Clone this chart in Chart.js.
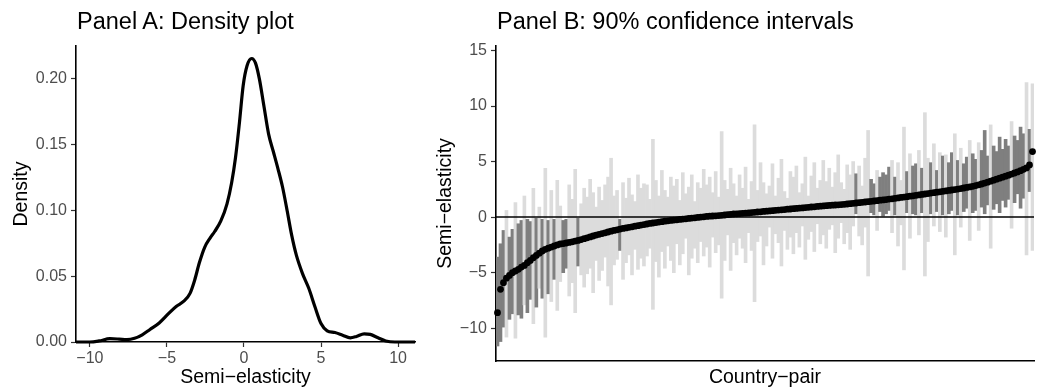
<!DOCTYPE html>
<html>
<head>
<meta charset="utf-8">
<script src="https://cdn.jsdelivr.net/npm/chart.js@4.4.1/dist/chart.umd.min.js"></script>
<style>
  html, body { margin: 0; padding: 0; background: #fff; }
  body { width: 1038px; height: 389px; position: relative; overflow: hidden; font-family: "Liberation Sans", Arial, sans-serif; }
  canvas { position: absolute; top: 0; }
  .panel-title { position: absolute; top: 10px; z-index: 2; font-size: 23.5px; line-height: 23px; color: #000; white-space: nowrap; }
</style>
</head>
<body>
<canvas id="density" width="420" height="389" style="left:0"></canvas>
<canvas id="intervals" width="618" height="389" style="left:420px"></canvas>
<div class="panel-title" style="left:77px">Panel A: Density plot</div>
<div class="panel-title" style="left:497px">Panel B: 90% confidence intervals</div>
<script>
// Panel A: kernel density of the semi-elasticities
const densityX = [-10.9, -10.0, -9.4, -8.7, -8.1, -7.6, -7.1, -6.6, -6.1, -5.5,
  -4.9, -4.4, -3.9, -3.5, -3.2, -2.9, -2.55, -2.2, -1.9, -1.5,
  -1.1, -0.8, -0.55, -0.3, -0.05, 0.2, 0.5, 0.75, 1.0, 1.3,
  1.6, 1.9, 2.2, 2.5, 2.8, 3.1, 3.4, 3.8, 4.2, 4.6,
  5.0, 5.4, 5.9, 6.4, 6.9, 7.3, 7.8, 8.2, 8.7, 9.2, 9.8, 11.1];
const densityY = [0, 0, 0.0008, 0.0025, 0.0022, 0.0018, 0.0028, 0.0055, 0.0095, 0.0145,
  0.0215, 0.027, 0.031, 0.037, 0.047, 0.06, 0.072, 0.079, 0.084, 0.092,
  0.105, 0.121, 0.14, 0.166, 0.195, 0.21, 0.2155, 0.212, 0.2, 0.179,
  0.158, 0.145, 0.132, 0.118, 0.1, 0.081, 0.066, 0.052, 0.041, 0.027,
  0.014, 0.0085, 0.0072, 0.0052, 0.0032, 0.0042, 0.0062, 0.0058, 0.0032, 0.0008, 0, 0];

// Panel B: point estimates sorted, with 90% CI bounds
const estimates = [
  -8.6, -6.5, -5.9, -5.5, -5.25, -5.0, -4.85, -4.7, -4.5, -4.35,
  -4.1, -3.9, -3.65, -3.45, -3.25, -3.05, -2.9, -2.8, -2.7, -2.6,
  -2.5, -2.42, -2.38, -2.33, -2.28, -2.22, -2.16, -2.1, -2.02, -1.94,
  -1.86, -1.78, -1.7, -1.62, -1.55, -1.48, -1.41, -1.34, -1.27, -1.2,
  -1.14, -1.08, -1.02, -0.97, -0.92, -0.87, -0.82, -0.77, -0.72, -0.67,
  -0.62, -0.57, -0.53, -0.49, -0.45, -0.41, -0.37, -0.33, -0.3, -0.27,
  -0.24, -0.21, -0.18, -0.15, -0.12, -0.09, -0.06, -0.03, 0.0, 0.03,
  0.06, 0.08, 0.1, 0.12, 0.14, 0.16, 0.19, 0.22, 0.25, 0.28,
  0.3, 0.32, 0.34, 0.36, 0.38, 0.41, 0.43, 0.46, 0.48, 0.51,
  0.53, 0.56, 0.58, 0.61, 0.63, 0.66, 0.68, 0.71, 0.73, 0.76,
  0.78, 0.81, 0.83, 0.86, 0.88, 0.91, 0.93, 0.96, 0.98, 1.01,
  1.03, 1.05, 1.07, 1.09, 1.11, 1.13, 1.15, 1.18, 1.21, 1.24,
  1.27, 1.3, 1.33, 1.36, 1.39, 1.42, 1.45, 1.48, 1.52, 1.55,
  1.58, 1.62, 1.65, 1.69, 1.73, 1.77, 1.8, 1.84, 1.88, 1.92,
  1.96, 2.0, 2.04, 2.08, 2.12, 2.16, 2.2, 2.24, 2.28, 2.32,
  2.36, 2.4, 2.44, 2.48, 2.52, 2.57, 2.62, 2.67, 2.72, 2.77,
  2.84, 2.91, 2.98, 3.06, 3.14, 3.23, 3.32, 3.41, 3.5, 3.59,
  3.68, 3.77, 3.87, 3.97, 4.07, 4.18, 4.3, 4.43, 4.7, 5.9
];
const ciLower = [
  -11.6, -11.2, -9.9, -10.8, -9.2, -8.7, -10.9, -8.8, -9.1, -7.9,
  -8.6, -7.4, -9.6, -8.1, -6.4, -7.3, -10.8, -6.9, -7.6, -5.6,
  -8.4, -5.8, -5.0, -4.6, -7.1, -5.9, -8.6, -4.4, -5.2, -6.3,
  -5.1, -4.6, -6.8, -3.9, -5.7, -4.8, -3.6, -6.2, -7.9, -4.3,
  -3.8, -3.0, -5.6, -4.1, -3.4, -5.2, -2.9, -4.7, -3.7, -4.4,
  -3.5, -2.8, -8.3, -4.0, -5.4, -3.1, -4.6, -2.6, -3.9, -5.0,
  -2.4, -4.3, -3.3, -1.9, -5.2, -3.7, -2.8, -4.1, -2.2, -3.5,
  -2.7, -4.5, -1.8, -3.2, -2.5, -7.3, -3.9, -1.6, -4.8, -2.3,
  -3.4, -1.9, -2.8, -4.1, -1.4, -3.0, -7.6, -2.2, -1.7, -4.3,
  -2.6, -0.9, -3.7, -1.5, -2.3, -4.4, -1.2, -2.9, -1.8, -3.3,
  -1.4, -2.7, -0.8, -3.8, -2.0, -1.3, -3.1, -0.6, -2.4, -1.6,
  -2.8, -1.1, -0.7, -3.2, -1.9, -0.5, -2.4, -1.4, -2.9, -0.8,
  0.3, -1.7, -2.5, -0.9, -5.3, 0.4, 0.2, -1.2, 0.5, 0.1,
  0.3, 0.6, -1.4, 0.2, -2.6, -0.7, -4.75, 0.4, -1.9, 0.3,
  0.2, -1.6, 0.4, -5.3, -2.2, 0.3, -0.8, 0.5, -1.3, 0.2,
  -1.8, 0.3, 0.6, -3.4, 0.2, -0.9, 0.5, 0.8, -2.1, 0.4,
  0.6, -1.2, 0.9, 0.3, 1.1, -2.8, 0.7, 1.2, 0.4, 1.5,
  0.9, 1.6, -1.0, 1.3, 2.1, 0.8, 1.7, -3.4, 2.3, -3.0
];
const ciUpper = [
  -3.6, -2.4, -1.2, 0.6, -1.8, -1.1, 1.3, -0.6, -0.3, 1.9,
  -0.2, -0.4, 2.6, -0.1, 0.9, -0.2, 4.4, -0.3, 2.4, -0.2,
  3.3, 1.0, -0.3, -0.2, 2.9, 1.6, 4.3, -0.1, 1.2, 2.6,
  1.8, 3.4, 2.2, 0.9, 2.7, 1.5, 2.9, 3.6, 5.3, 1.9,
  2.4, -0.2, 3.1, 1.7, 3.5, 2.0, 1.4, 3.8, 2.6, 3.0,
  2.9, 1.6, 7.0, 3.3, 1.9, 4.2, 2.4, 1.8, 3.6, 2.8,
  3.4, 1.5, 4.0, 2.1, 2.7, 3.8, 1.4, 3.1, 2.6, 4.3,
  2.9, 3.6, 2.2, 4.1, 1.8, 7.7, 3.3, 2.5, 4.4, 3.0,
  1.9, 3.8, 2.6, 4.5, 1.6, 3.2, 8.3, 2.4, 4.9, 3.1,
  2.1, 2.8, 4.8, 1.9, 3.5, 5.2, 2.3, 1.7, 4.1, 3.6,
  4.6, 2.2, 3.0, 5.4, 1.9, 3.7, 4.9, 2.6, 3.3, 5.1,
  3.2, 4.4, 2.7, 4.0, 5.6, 3.1, 2.5, 4.7, 3.8, 5.0,
  3.9, 4.6, 2.8, 5.3, 7.8, 3.4, 3.0, 4.2, 3.6, 4.0,
  3.8, 4.5, 5.1, 3.6, 4.9, 3.3, 8.1, 4.1, 5.7, 4.6,
  4.8, 6.0, 4.4, 9.4, 5.3, 4.9, 6.6, 4.2, 5.8, 5.5,
  5.6, 4.9, 5.8, 7.5, 5.1, 6.2, 4.8, 5.4, 6.9, 5.7,
  5.2, 6.7, 6.0, 7.8, 5.5, 8.3, 6.4, 5.9, 7.2, 6.1,
  7.0, 6.4, 8.6, 7.3, 6.9, 8.1, 7.5, 12.1, 7.9, 12.0
];
const pairIds = estimates.map((_, i) => i + 1);

const FONT = '"Liberation Sans", Arial, sans-serif';
const TICK_GREY = '#4d4d4d';
const LIGHT = '#dcdcdc';
const DARK = '#7f7f7f';
const minusFmt = v => (v < 0 ? '\u2212' + Math.abs(v) : String(v));

const axisBorder = { display: true, color: '#000', width: 1.6 };
const tickGrid = { display: true, drawOnChartArea: false, drawTicks: true, tickLength: 5, tickColor: '#333', tickWidth: 1.2 };

// horizontal reference line at 0, drawn over the bars
const zeroLine = {
  id: 'zeroLine',
  afterDatasetDraw(chart, args) {
    if (args.meta.type !== 'bar') return;
    const { ctx, chartArea, scales } = chart;
    const y = scales.y.getPixelForValue(0);
    ctx.save();
    ctx.strokeStyle = '#000';
    ctx.lineWidth = 1.5;
    ctx.beginPath();
    ctx.moveTo(chartArea.left, y);
    ctx.lineTo(chartArea.right, y);
    ctx.stroke();
    ctx.restore();
  }
};

new Chart(document.getElementById('density'), {
  type: 'line',
  data: {
    datasets: [{
      data: densityX.map((x, i) => ({ x, y: densityY[i] })),
      borderColor: '#000',
      borderWidth: 3.2,
      pointRadius: 0,
      cubicInterpolationMode: 'monotone',
      fill: false,
      clip: false
    }]
  },
  options: {
    responsive: false,
    animation: false,
    devicePixelRatio: 1,
    layout: { padding: { left: 0, right: 5, top: 46, bottom: 0 } },
    plugins: { legend: { display: false }, tooltip: { enabled: false } },
    scales: {
      x: {
        type: 'linear', min: -10.9, max: 11.1,
        afterFit: s => { s.height = 47; },
        border: axisBorder,
        grid: tickGrid,
        ticks: { stepSize: 5, includeBounds: false, padding: 2, color: TICK_GREY, font: { family: FONT, size: 16 }, callback: minusFmt },
        title: { display: true, text: 'Semi\u2212elasticity', color: '#000', font: { family: FONT, size: 19.5 }, padding: 0 }
      },
      y: {
        min: 0, max: 0.225,
        afterFit: s => { s.width = 76; },
        border: axisBorder,
        grid: tickGrid,
        ticks: { stepSize: 0.05, includeBounds: false, padding: 4, color: TICK_GREY, font: { family: FONT, size: 16 }, callback: v => v.toFixed(2) },
        title: { display: true, text: 'Density', color: '#000', font: { family: FONT, size: 19.5 }, padding: { top: 10, bottom: 0 } }
      }
    }
  }
});

new Chart(document.getElementById('intervals'), {
  type: 'bar',
  data: {
    labels: pairIds,
    datasets: [
      {
        type: 'bar',
        data: ciLower.map((lo, i) => [lo, ciUpper[i]]),
        backgroundColor: ciLower.map((lo, i) => (lo > 0 || ciUpper[i] < 0) ? DARK : LIGHT),
        borderWidth: 0,
        barPercentage: 1,
        categoryPercentage: 1,
        order: 2
      },
      {
        type: 'line',
        data: estimates,
        showLine: false,
        pointRadius: 3.4,
        pointBackgroundColor: '#000',
        pointBorderWidth: 0,
        clip: false,
        order: 1
      }
    ]
  },
  options: {
    responsive: false,
    animation: false,
    devicePixelRatio: 1,
    layout: { padding: { left: 0, right: 2, top: 46, bottom: 0 } },
    plugins: { legend: { display: false }, tooltip: { enabled: false } },
    scales: {
      x: {
        type: 'category',
        offset: true,
        afterFit: s => { s.height = 28; },
        border: axisBorder,
        grid: { display: false },
        ticks: { display: false },
        title: { display: true, text: 'Country\u2212pair', color: '#000', font: { family: FONT, size: 19.5 }, padding: 0 }
      },
      y: {
        min: -12.95, max: 15.4,
        afterFit: s => { s.width = 76; },
        border: axisBorder,
        grid: tickGrid,
        ticks: { stepSize: 5, includeBounds: false, padding: 4, color: TICK_GREY, font: { family: FONT, size: 16 }, callback: minusFmt },
        title: { display: true, text: 'Semi\u2212elasticity', color: '#000', font: { family: FONT, size: 19.5 }, padding: { top: 14, bottom: 0 } }
      }
    }
  },
  plugins: [zeroLine]
});
</script>
</body>
</html>
